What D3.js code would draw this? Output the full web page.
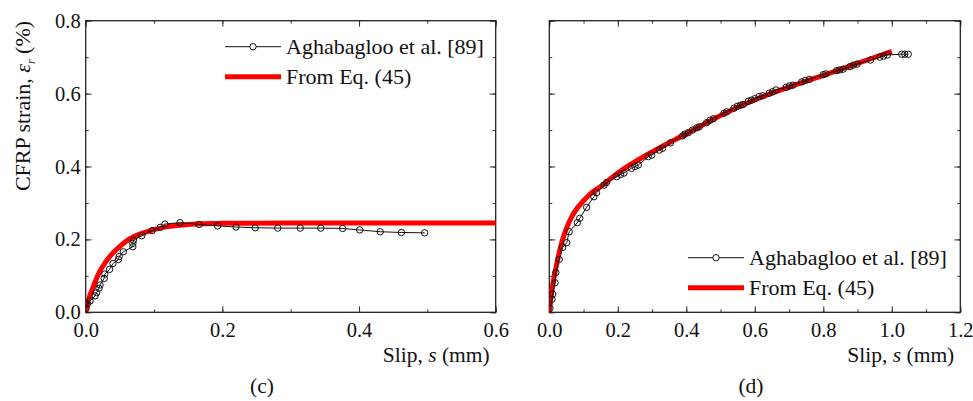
<!DOCTYPE html>
<html>
<head>
  <meta charset="utf-8">
  <script src="https://d3js.org/d3.v7.min.js"></script>
  <style>
    body { margin: 0; background: #fff; }
    text { font-family: "Liberation Serif", serif; fill: #111; }
  </style>
</head>
<body>
<script>
// ---- data ----
// panel (c): test points [slip mm, strain %]
var testSlipC = [0.0005, 0.0024, 0.0063, 0.0137, 0.016, 0.0195, 0.021, 0.027, 0.028, 0.035, 0.040, 0.048, 0.049,
  0.055, 0.069, 0.069, 0.070, 0.082, 0.097, 0.109, 0.116, 0.138, 0.166, 0.193, 0.220, 0.248, 0.281, 0.314,
  0.344, 0.376, 0.401, 0.431, 0.462, 0.496];
var testStrainC = [0.011, 0.023, 0.031, 0.045, 0.054, 0.066, 0.075, 0.093, 0.105, 0.118, 0.134, 0.145, 0.153,
  0.166, 0.180, 0.189, 0.198, 0.210, 0.224, 0.233, 0.242, 0.246, 0.241, 0.237, 0.234, 0.232, 0.231, 0.231,
  0.231, 0.230, 0.226, 0.221, 0.219, 0.218];
// panel (c): Eq. (45)
var eqSlipC = [0, 0.005, 0.01, 0.02, 0.03, 0.04, 0.05, 0.06, 0.07, 0.08, 0.10, 0.12, 0.15, 0.20, 0.30, 0.60];
var eqStrainC = [0, 0.040, 0.065, 0.110, 0.140, 0.163, 0.181, 0.196, 0.207, 0.215, 0.227, 0.235, 0.241, 0.244, 0.245, 0.245];

// panel (d): test points
var testSlipD = [0.002, 0.008, 0.010, 0.017, 0.019, 0.029, 0.039, 0.051, 0.058, 0.082, 0.089, 0.109, 0.130,
  0.138, 0.160, 0.167, 0.197, 0.208, 0.218, 0.240, 0.250, 0.260, 0.289, 0.299, 0.321, 0.331, 0.354, 0.389,
  0.396, 0.406, 0.418, 0.430, 0.438, 0.459, 0.469, 0.479, 0.510, 0.518, 0.539, 0.549, 0.558, 0.566, 0.581,
  0.590, 0.600, 0.613, 0.623, 0.642, 0.652, 0.662, 0.691, 0.701, 0.711, 0.737, 0.747, 0.759, 0.800, 0.807,
  0.839, 0.848, 0.858, 0.878, 0.888, 0.899, 0.938, 0.965, 0.976, 0.987, 1.029, 1.038, 1.048];
var testStrainD = [0.011, 0.036, 0.050, 0.081, 0.109, 0.145, 0.178, 0.191, 0.221, 0.246, 0.258, 0.288, 0.317,
  0.328, 0.349, 0.356, 0.372, 0.378, 0.382, 0.395, 0.400, 0.404, 0.427, 0.431, 0.445, 0.450, 0.465, 0.484,
  0.489, 0.493, 0.500, 0.506, 0.509, 0.520, 0.527, 0.531, 0.546, 0.550, 0.560, 0.565, 0.568, 0.570, 0.579,
  0.582, 0.586, 0.592, 0.594, 0.601, 0.605, 0.610, 0.617, 0.621, 0.623, 0.632, 0.636, 0.639, 0.652, 0.654,
  0.663, 0.665, 0.667, 0.674, 0.678, 0.681, 0.692, 0.700, 0.703, 0.706, 0.708, 0.708, 0.708];
// panel (d): Eq. (45)
var eqSlipD = [0, 0.005, 0.01, 0.02, 0.03, 0.04, 0.05, 0.06, 0.08, 0.10, 0.12, 0.15, 0.20, 0.30, 0.40, 0.50,
  0.60, 0.70, 0.80, 0.90, 1.00];
var eqStrainD = [0, 0.040, 0.075, 0.125, 0.168, 0.203, 0.230, 0.252, 0.284, 0.306, 0.325, 0.345, 0.382, 0.440,
  0.490, 0.540, 0.583, 0.618, 0.650, 0.683, 0.716];

var yTicks = [0, 0.2, 0.4, 0.6, 0.8];
var xTicksC = [0, 0.2, 0.4, 0.6];
var xTicksD = [0, 0.2, 0.4, 0.6, 0.8, 1.0, 1.2];
var seriesNames = ["Aghabagloo et al. [89]", "From Eq. (45)"];

var svg = d3.select("body").append("svg")
  .attr("width", 973).attr("height", 401);

function zip(a, b) { return a.map(function (v, i) { return [v, b[i]]; }); }

// one panel
function panel(opt) {
  var x = d3.scaleLinear().domain([0, opt.xMax]).range([opt.left, opt.right]);
  var y = d3.scaleLinear().domain([0, 0.8]).range([312.3, 20.7]);
  var g = svg.append("g");

  var clipId = "clip" + opt.label;
  svg.append("clipPath").attr("id", clipId).append("rect")
    .attr("x", opt.left).attr("y", 20.7)
    .attr("width", opt.right - opt.left).attr("height", 312.3 - 20.7);

  // ticks on all four sides, pointing inward
  var xMinor = d3.range(0, opt.xMax + 0.001, 0.1);
  var yMinor = d3.range(0, 0.801, 0.1);
  g.append("g").attr("transform", "translate(0,312.3)")
    .call(d3.axisBottom(x).tickValues(xMinor).tickSize(-3).tickFormat(""));
  g.append("g").attr("transform", "translate(0,312.3)")
    .call(d3.axisBottom(x).tickValues(opt.xTicks).tickSize(-6).tickPadding(10).tickFormat(d3.format(".1f")));
  g.append("g").attr("transform", "translate(0,20.7)")
    .call(d3.axisTop(x).tickValues(xMinor).tickSize(-3).tickFormat(""));
  g.append("g").attr("transform", "translate(0,20.7)")
    .call(d3.axisTop(x).tickValues(opt.xTicks).tickSize(-6).tickFormat(""));
  g.append("g").attr("transform", "translate(" + opt.left + ",0)")
    .call(d3.axisLeft(y).tickValues(yMinor).tickSize(-3).tickFormat(""));
  g.append("g").attr("transform", "translate(" + opt.left + ",0)")
    .call(d3.axisLeft(y).tickValues(yTicks).tickSize(-6).tickPadding(5)
      .tickFormat(opt.showY ? d3.format(".1f") : ""));
  g.append("g").attr("transform", "translate(" + opt.right + ",0)")
    .call(d3.axisRight(y).tickValues(yMinor).tickSize(-3).tickFormat(""));
  g.append("g").attr("transform", "translate(" + opt.right + ",0)")
    .call(d3.axisRight(y).tickValues(yTicks).tickSize(-6).tickFormat(""));

  g.selectAll(".domain").remove();
  g.selectAll(".tick line").attr("stroke", "#333").attr("stroke-width", 1);
  g.selectAll(".tick text").style("font-family", "Liberation Serif, serif")
    .style("font-size", "20.5px").attr("fill", "#111");

  g.append("rect").attr("x", opt.left).attr("y", 20.7)
    .attr("width", opt.right - opt.left).attr("height", 312.3 - 20.7)
    .attr("fill", "none").attr("stroke", "#222").attr("stroke-width", 1.3);

  var plot = svg.append("g").attr("clip-path", "url(#" + clipId + ")");

  var line = d3.line().x(function (d) { return x(d[0]); }).y(function (d) { return y(d[1]); });
  var smooth = d3.line().curve(d3.curveMonotoneX)
    .x(function (d) { return x(d[0]); }).y(function (d) { return y(d[1]); });

  plot.append("path").datum(zip(opt.eqS, opt.eqE))
    .attr("d", smooth).attr("fill", "none").attr("stroke", "#ff0000").attr("stroke-width", 5);

  var test = zip(opt.tS, opt.tE);
  plot.append("path").datum(test)
    .attr("d", line).attr("fill", "none").attr("stroke", "#111").attr("stroke-width", 1);
  plot.selectAll("circle.pt").data(test).enter().append("circle")
    .attr("class", "pt")
    .attr("cx", function (d) { return x(d[0]); })
    .attr("cy", function (d) { return y(d[1]); })
    .attr("r", 3.2).attr("fill", "none").attr("stroke", "#111").attr("stroke-width", 1);

  // legend
  var lg = svg.append("g").attr("transform", "translate(" + opt.legX + "," + opt.legY + ")");
  lg.append("line").attr("x1", 0).attr("x2", 56).attr("y1", 0).attr("y2", 0)
    .attr("stroke", "#111").attr("stroke-width", 1);
  lg.append("circle").attr("cx", 28).attr("cy", 0).attr("r", 3.2)
    .attr("fill", "#fff").attr("stroke", "#111").attr("stroke-width", 1);
  lg.append("text").attr("x", 61).attr("y", 7.5).style("font-size", "22px").text(seriesNames[0]);
  lg.append("line").attr("x1", 0).attr("x2", 56).attr("y1", 30).attr("y2", 30)
    .attr("stroke", "#ff0000").attr("stroke-width", 5);
  lg.append("text").attr("x", 61).attr("y", 37.5).style("font-size", "22px").text(seriesNames[1]);

  // x axis title
  var xt = svg.append("text").attr("x", opt.right - 6).attr("y", 362)
    .attr("text-anchor", "end").style("font-size", "21.5px");
  xt.append("tspan").text("Slip, ");
  xt.append("tspan").style("font-style", "italic").text("s");
  xt.append("tspan").text(" (mm)");

  svg.append("text").attr("x", opt.labX).attr("y", 393)
    .attr("text-anchor", "middle").style("font-size", "21.5px").text("(" + opt.label + ")");
}

panel({ label: "c", left: 85.7, right: 495.7, xMax: 0.6, xTicks: xTicksC, showY: true,
  tS: testSlipC, tE: testStrainC, eqS: eqSlipC, eqE: eqStrainC, legX: 225, legY: 46.7, labX: 262 });
panel({ label: "d", left: 549.3, right: 960.3, xMax: 1.2, xTicks: xTicksD, showY: false,
  tS: testSlipD, tE: testStrainD, eqS: eqSlipD, eqE: eqStrainD, legX: 688, legY: 257.7, labX: 751 });

// y axis title
var yt = svg.append("text").attr("transform", "translate(30,106) rotate(-90)")
  .attr("text-anchor", "middle").style("font-size", "22px");
yt.append("tspan").text("CFRP strain, ");
yt.append("tspan").style("font-style", "italic").text("ε");
yt.append("tspan").attr("dy", 5).style("font-size", "12px").style("font-style", "italic").text("r");
yt.append("tspan").attr("dy", -5).text(" (%)");
</script>
</body>
</html>
